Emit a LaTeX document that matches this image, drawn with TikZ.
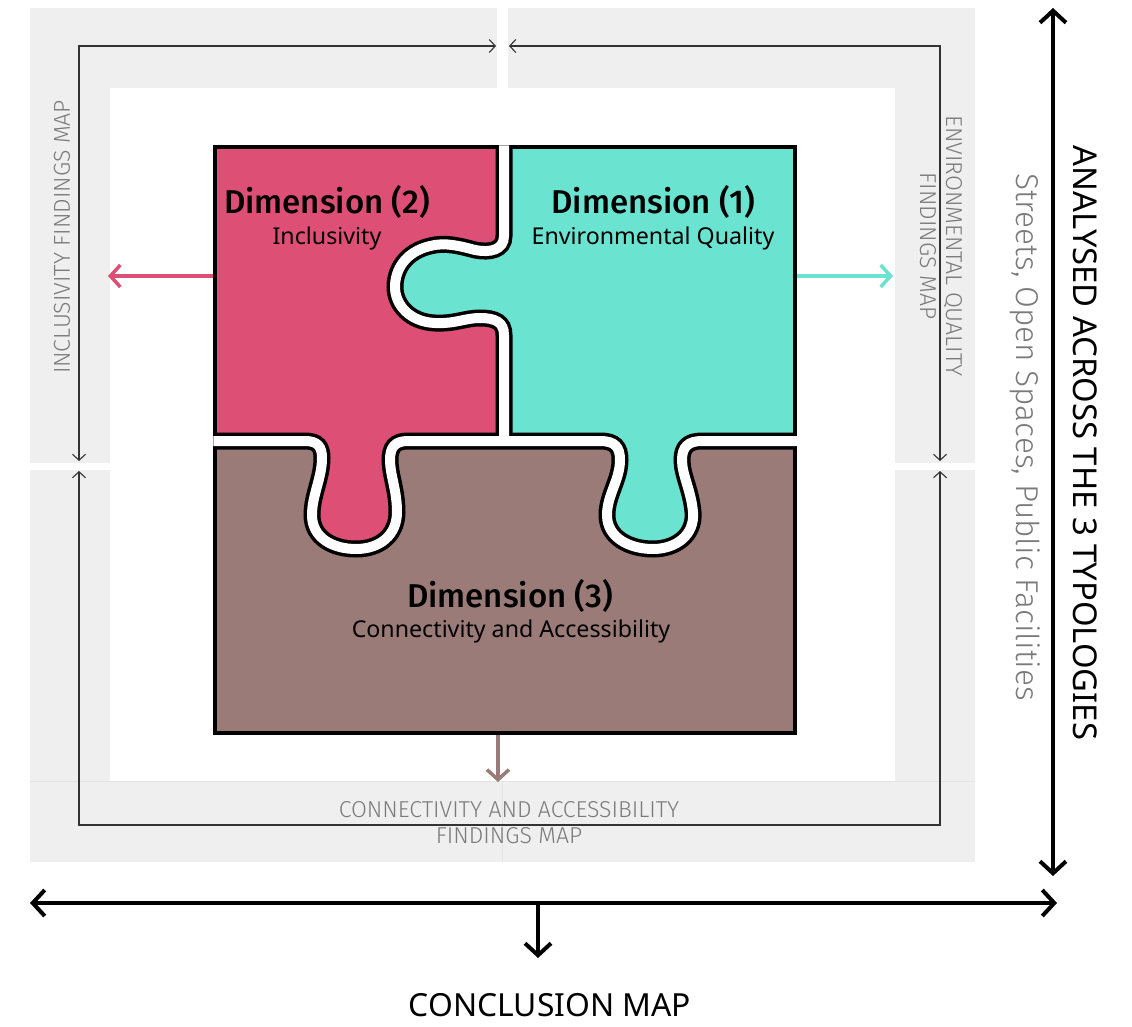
\documentclass[tikz,border=0pt]{standalone}
\usepackage{fontspec}
\usetikzlibrary{arrows.meta}
\setmainfont{Noto Sans}
\IfFontExistsTF{Fira Sans Medium}{\newfontfamily\headfont{Fira Sans Medium}}{%
  \IfFontExistsTF{Noto Sans SemiBold}{\newfontfamily\headfont{Noto Sans SemiBold}}{%
    \IfFontExistsTF{Fira Sans}{\newfontfamily\headfont{Fira Sans}[FakeBold=1.5]}{\newcommand\headfont{\bfseries}}}}
\IfFontExistsTF{Fira Sans Light}{\newfontfamily\lightfont{Fira Sans Light}}{%
  \IfFontExistsTF{Lato Light}{\newfontfamily\lightfont{Lato Light}}{%
    \IfFontExistsTF{Open Sans Light}{\newfontfamily\lightfont{Open Sans Light}}{\newcommand\lightfont{\normalfont}}}}
\definecolor{pinkc}{HTML}{DE4F76}
\definecolor{tealc}{HTML}{6BE3D1}
\definecolor{brownc}{HTML}{9A7B77}
\definecolor{bandc}{HTML}{EFEFEF}
\definecolor{faintc}{HTML}{E4E4E4}
\definecolor{labelc}{HTML}{7A7A7A}
\definecolor{thinc}{HTML}{333333}
\tikzset{
  tb/.tip={Straight Barb[length=6pt,width=13pt]},
  bb/.tip={Straight Barb[length=12pt,width=26pt]},
  cb/.tip={Straight Barb[length=10pt,width=22pt]},
  band/.style={fill=bandc},
  thinarr/.style={draw=thinc, line width=1.1pt},
  bigarr/.style={draw=black, line width=4pt},
  colarr/.style={line width=3.5pt},
  glabel/.style={text=labelc, font=\lightfont\fontsize{23}{26}\selectfont, inner sep=0pt},
  headtxt/.style={font=\headfont\fontsize{33}{38}\selectfont, inner sep=0pt},
  subtxt/.style={font=\fontsize{23.2}{26}\selectfont, inner sep=0pt},
  outline/.style={draw=black, line width=3.5pt},
  cutblack/.style={draw=black, line width=17pt},
  cutwhite/.style={draw=white, line width=10pt},
}
\def\pinktab{(305,441) .. controls (318,441) and (322,447) .. (322,458) .. controls (322,478) and (312,495) .. (312,515) .. controls (312,538) and (333,549) .. (356,549) .. controls (380,549) and (397,535) .. (397,512) .. controls (397,490) and (390,475) .. (390,460) .. controls (390,447) and (395,441) .. (408,441)}
\def\tealtab{(600,441) .. controls (615,441) and (620,447) .. (620,460) .. controls (620,480) and (607,495) .. (607,515) .. controls (607,538) and (630,549) .. (653,549) .. controls (676,549) and (695,535) .. (693,512) .. controls (691,490) and (682,475) .. (682,460) .. controls (682,447) and (688,441) .. (702,441)}
\def\tealknob{(504,236) .. controls (504,250) and (490,253) .. (475,250) .. controls (460,246) and (445,242) .. (430,246) .. controls (405,252) and (395,270) .. (395,287) .. controls (395,305) and (410,322) .. (435,323) .. controls (455,324) and (465,318) .. (480,318) .. controls (495,318) and (504,322) .. (504,335)}
\begin{document}
\begin{tikzpicture}[x=1pt,y=-1pt]
\useasboundingbox (0,0) rectangle (1132,1026);
% grey frame
\fill[band] (30,8) rectangle (497,88);
\fill[band] (508,8) rectangle (975,88);
\fill[band] (30,88) rectangle (110,463);
\fill[band] (30,470) rectangle (110,781);
\fill[band] (895,88) rectangle (975,463);
\fill[band] (895,470) rectangle (975,781);
\fill[band] (30,781) rectangle (975,862);
\draw[faintc, line width=0.8pt] (30,781) -- (975,781);
\draw[faintc, line width=0.8pt] (502,781) -- (502,862);
% thin frame arrows
\coordinate (tlend) at (496,46);
\coordinate (tldown) at (79,461);
\coordinate (trend) at (509,46);
\coordinate (trdown) at (940,461);
\coordinate (blup) at (79,471);
\coordinate (brup) at (940,471);
\coordinate (bcorner) at (79,825);
\draw[thinarr, tb-tb] (tldown) |- (tlend);
\draw[thinarr, tb-tb] (trdown) |- (trend);
\draw[thinarr, tb-tb] (blup) |- (bcorner -| brup) -- (brup);
% grey labels
\node[glabel, rotate=90] (incl) at (62,237) {INCLUSIVITY FINDINGS MAP};
\node[glabel, rotate=-90, align=center] (env) at (941,246) {ENVIRONMENTAL QUALITY\\FINDINGS MAP};
\node[glabel, align=center] (conn) at (509,823) {CONNECTIVITY AND ACCESSIBILITY\\FINDINGS MAP};
% puzzle fills
\fill[brownc] (215,441) rectangle (795,733);
\fill[pinkc] (215,147) rectangle (504,441);
\fill[pinkc] \pinktab -- cycle;
\fill[tealc] (504,147) rectangle (795,441);
\fill[tealc] \tealknob -- cycle;
\fill[tealc] \tealtab -- cycle;
\draw[outline] (215,147) rectangle (795,733);
% cuts
\draw[cutblack] (504,145.25) -- \tealknob -- (504,441);
\draw[cutblack] (213.25,441) -- \pinktab -- \tealtab -- (796.75,441);
\draw[cutwhite] (504,145.25) -- \tealknob -- (504,441);
\draw[cutwhite] (213.25,441) -- \pinktab -- \tealtab -- (796.75,441);
% texts
\node[headtxt] (d2) at (327,202) {Dimension (2)};
\node[subtxt] (d2s) at (327,238) {Inclusivity};
\node[headtxt] (d1) at (653,202) {Dimension (1)};
\node[subtxt] (d1s) at (653,238) {Environmental Quality};
\node[headtxt] (d3) at (510,596) {Dimension (3)};
\node[subtxt] (d3s) at (511,631) {Connectivity and Accessibility};
% coloured arrows
\coordinate (pinkout) at (213,276);
\coordinate (pinkend) at (108,276);
\coordinate (tealout) at (797,276);
\coordinate (tealend) at (893,276);
\coordinate (brownout) at (498,735);
\coordinate (brownend) at (498,782);
\draw[colarr, pinkc, -cb] (pinkout) -- (pinkend);
\draw[colarr, tealc, -cb] (tealout) -- (tealend);
\draw[colarr, brownc, -cb] (brownout) -- (brownend);
% big axes
\coordinate (vtop) at (1053,8);
\coordinate (vbot) at (1053,876);
\coordinate (hl) at (30,903);
\coordinate (hr) at (1057,903);
\coordinate (dtop) at (538,903);
\coordinate (dbot) at (538,958);
\draw[bigarr, bb-bb] (vtop) -- (vbot);
\draw[bigarr, bb-bb] (hl) -- (hr);
\draw[bigarr, -bb] (dtop) -- (dbot);
\node[rotate=-90, font=\fontsize{32.8}{36}\selectfont, inner sep=0pt] (analysed) at (1085,443) {ANALYSED ACROSS THE 3 TYPOLOGIES};
\node[rotate=-90, text=labelc, font=\lightfont\fontsize{31.6}{36}\selectfont, inner sep=0pt] (streets) at (1025,437) {Streets, Open Spaces, Public Facilities};
\node[font=\fontsize{31.8}{34}\selectfont, inner sep=0pt] (concl) at (550,1005) {CONCLUSION MAP};
\end{tikzpicture}
\end{document}
